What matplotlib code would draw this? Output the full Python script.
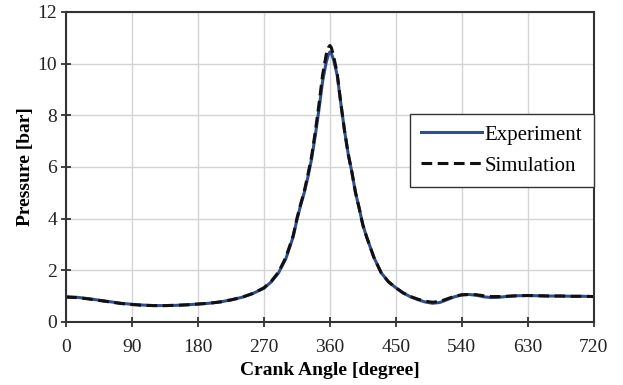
import matplotlib.pyplot as plt

# crank angle [deg]
angle = [0, 15, 30, 45, 60, 75, 90, 105, 120, 135, 150, 165, 180, 195, 210, 225,
         240, 255, 270, 280, 290, 300, 310, 315, 320, 325, 330, 335, 340, 345, 350,
         355, 358, 360, 362, 365, 370, 375, 380, 385, 390, 395, 400, 405, 410, 420,
         430, 440, 450, 460, 470, 480, 490, 500, 510, 520, 530, 540, 550, 560, 570,
         580, 590, 600, 615, 630, 645, 660, 675, 690, 705, 720]

# measured pressure [bar]
experiment = [0.97, 0.95, 0.90, 0.84, 0.78, 0.72, 0.68, 0.65, 0.63, 0.63, 0.64, 0.66,
              0.69, 0.72, 0.77, 0.85, 0.95, 1.10, 1.30, 1.55, 1.90, 2.45, 3.30, 3.95,
              4.50, 5.00, 5.60, 6.30, 7.20, 8.20, 9.30, 10.05, 10.35, 10.45, 10.40,
              10.15, 9.55, 8.45, 7.40, 6.50, 5.80, 5.00, 4.40, 3.75, 3.30, 2.50, 1.90,
              1.55, 1.32, 1.12, 0.97, 0.86, 0.77, 0.72, 0.75, 0.86, 0.97, 1.04, 1.06,
              1.03, 0.97, 0.94, 0.95, 0.98, 1.01, 1.02, 1.01, 1.00, 1.00, 0.99, 0.99,
              0.98]

# simulated pressure [bar]
simulation = [0.96, 0.94, 0.89, 0.83, 0.77, 0.71, 0.67, 0.64, 0.63, 0.63, 0.64, 0.66,
              0.69, 0.72, 0.77, 0.85, 0.95, 1.10, 1.32, 1.57, 1.93, 2.50, 3.35, 4.00,
              4.55, 5.05, 5.70, 6.40, 7.35, 8.40, 9.55, 10.35, 10.62, 10.70, 10.62,
              10.30, 9.62, 8.45, 7.40, 6.50, 5.80, 5.00, 4.40, 3.75, 3.30, 2.50, 1.90,
              1.55, 1.32, 1.12, 0.98, 0.88, 0.80, 0.76, 0.79, 0.89, 0.99, 1.05, 1.06,
              1.05, 1.01, 0.98, 0.98, 0.99, 1.01, 1.02, 1.01, 1.00, 1.00, 0.99, 0.99,
              0.98]

x_ticks = [0, 90, 180, 270, 360, 450, 540, 630, 720]
y_ticks = [0, 2, 4, 6, 8, 10, 12]

plt.rcParams['font.family'] = ['Liberation Serif', 'DejaVu Serif']

fig = plt.figure(figsize=(6.23, 3.85), dpi=100)
ax = fig.add_axes([0.106, 0.164, 0.847, 0.805])

ax.plot(angle, experiment, color='#2f4f8f', linewidth=2.2, label='Experiment')
ax.plot(angle, simulation, color='#111111', linewidth=2.2, linestyle=(0, (3.5, 1.8)),
        label='Simulation')

ax.set_xlim(0, 720)
ax.set_ylim(0, 12)
ax.set_xticks(x_ticks)
ax.set_yticks(y_ticks)
ax.grid(True, color='#d4d4d4', linewidth=1.0)
ax.set_axisbelow(True)

for side in ax.spines.values():
    side.set_color('#333333')
    side.set_linewidth(1.5)

ax.tick_params(direction='inout', length=7, width=1.2, labelsize=14, colors='#222222')
ax.tick_params(axis='x', pad=9)
ax.tick_params(axis='y', pad=3)

ax.set_xlabel('Crank Angle [degree]', fontsize=14, fontweight='bold', labelpad=4)
ax.set_ylabel('Pressure [bar]', fontsize=14, fontweight='bold', labelpad=2)

leg = ax.legend(loc='upper right', bbox_to_anchor=(1.0, 0.672), borderaxespad=0,
                fontsize=15, fancybox=False, framealpha=1, edgecolor='#333333',
                handlelength=2.9, handletextpad=0.15, labelspacing=0.55,
                borderpad=0.55)
leg.get_frame().set_linewidth(1.0)

fig.savefig('out.png', dpi=100)
